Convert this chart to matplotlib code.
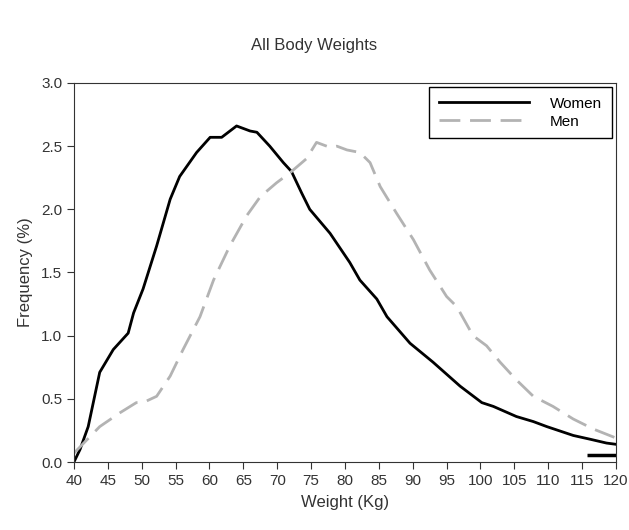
import numpy as np
import matplotlib.pyplot as plt

plt.rcParams['font.family'] = ['Liberation Sans', 'DejaVu Sans']

# Curvas: peso (kg) -> frecuencia (%)
women_w = [40, 40.9, 42.1, 43.8, 45.8, 48.0, 48.8, 50.2, 52.2, 54.2, 55.6, 58.1,
           60.1, 61.8, 64.0, 66.0, 67.0, 68.9, 70.9, 72.1, 73.6, 74.8, 77.8, 80.7,
           82.2, 84.7, 86.2, 89.6, 93.0, 97.0, 100.2, 101.9, 105.3, 107.8, 109.8,
           113.7, 116.2, 118.6, 120]
women_f = [0.0, 0.10, 0.28, 0.71, 0.89, 1.02, 1.18, 1.37, 1.71, 2.08, 2.26, 2.45,
           2.57, 2.57, 2.66, 2.62, 2.61, 2.50, 2.37, 2.30, 2.13, 2.00, 1.81, 1.58,
           1.44, 1.29, 1.15, 0.94, 0.79, 0.60, 0.47, 0.44, 0.36, 0.32, 0.28,
           0.21, 0.18, 0.15, 0.14]

men_w = [40, 43.8, 46.8, 49.2, 50.2, 52.2, 54.2, 56.1, 58.6, 60.6, 63.0, 65.5,
         67.5, 69.9, 71.9, 74.3, 75.8, 77.8, 78.8, 80.3, 82.2, 83.7, 85.2, 87.6,
         90.1, 92.5, 95.0, 96.5, 98.9, 100.9, 102.9, 105.3, 107.8, 110.7, 113.7,
         116.7, 120]
men_f = [0.07, 0.28, 0.39, 0.47, 0.47, 0.52, 0.68, 0.89, 1.15, 1.44, 1.71, 1.95,
         2.10, 2.21, 2.29, 2.40, 2.53, 2.49, 2.50, 2.47, 2.45, 2.37, 2.18, 1.97,
         1.76, 1.52, 1.31, 1.23, 1.00, 0.92, 0.79, 0.65, 0.52, 0.44, 0.34,
         0.26, 0.19]

# pequeño segmento negro abajo a la derecha
mark_w = [115.7, 120]
mark_f = [0.055, 0.055]

fig = plt.figure(figsize=(6.29, 5.30), dpi=100)
ax = fig.add_axes([0.1176, 0.1283, 0.8617, 0.7151])

ax.plot(women_w, women_f, color='black', lw=2, label='Women')
ax.plot(men_w, men_f, color='#b3b3b3', lw=2, dashes=(7.5, 3.5), label='Men')
ax.plot(mark_w, mark_f, color='black', lw=2.5, solid_capstyle='butt')

ax.set_xlim(40, 120)
ax.set_ylim(0, 3.0)
ax.set_xticks(np.arange(40, 121, 5))
ax.set_yticks(np.arange(0, 3.01, 0.5))
ax.yaxis.set_major_formatter(plt.FormatStrFormatter('%.1f'))
ax.tick_params(direction='out', length=5, labelsize=11, colors='#333333')
for s in ax.spines.values():
    s.set_color('#333333')

ax.set_xlabel('Weight (Kg)', fontsize=12, color='#333333', labelpad=5)
ax.set_ylabel('Frequency (%)', fontsize=12, color='#333333', labelpad=6)
fig.text(0.5, 0.915, 'All Body Weights', ha='center', va='center', fontsize=12,
         color='#333333')

leg = ax.legend(loc='upper right', handlelength=5.9, fontsize=11, fancybox=False,
                edgecolor='black', framealpha=1, borderaxespad=0.25, borderpad=0.65,
                handletextpad=1.35, labelspacing=0.25)
leg.get_frame().set_linewidth(1)

plt.savefig('out.png', dpi=100)
